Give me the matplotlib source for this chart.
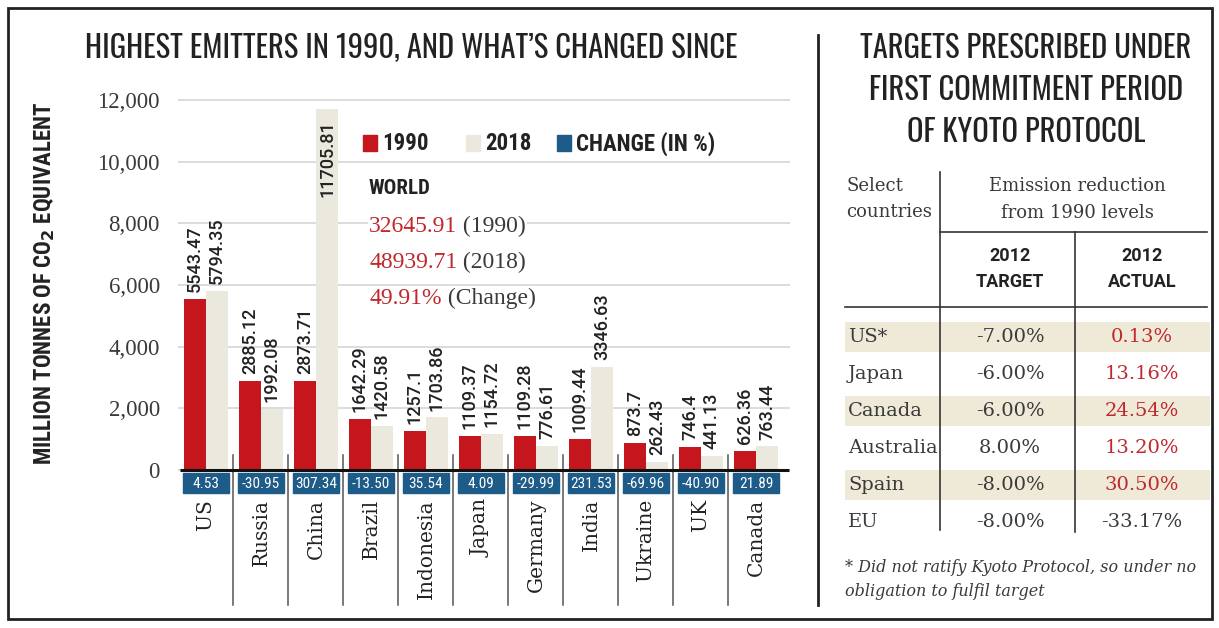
import numpy as np
import matplotlib
matplotlib.use('Agg')
import matplotlib.pyplot as plt
from matplotlib.patches import Rectangle

# emissions, million tonnes of CO2 equivalent
countries = ['US', 'Russia', 'China', 'Brazil', 'Indonesia', 'Japan',
             'Germany', 'India', 'Ukraine', 'UK', 'Canada']
em_1990 = [5543.47, 2885.12, 2873.71, 1642.29, 1257.1, 1109.37,
           1109.28, 1009.44, 873.7, 746.4, 626.36]
em_2018 = [5794.35, 1992.08, 11705.81, 1420.58, 1703.86, 1154.72,
           776.61, 3346.63, 262.43, 441.13, 763.44]
change_pct = [4.53, -30.95, 307.34, -13.50, 35.54, 4.09,
              -29.99, 231.53, -69.96, -40.90, 21.89]
y_ticks = [0, 2000, 4000, 6000, 8000, 10000, 12000]

world_1990 = 32645.91
world_2018 = 48939.71
world_change = 49.91

# kyoto table
kyoto_countries = ['US*', 'Japan', 'Canada', 'Australia', 'Spain', 'EU']
target_2012 = [-7.00, -6.00, -6.00, 8.00, -8.00, -8.00]
actual_2012 = [0.13, 13.16, 24.54, 13.20, 30.50, -33.17]

RED = '#c4161c'
RED_TXT = '#c0282d'
BEIGE = '#ebe8dd'
BLUE = '#1d5b88'
DARK = '#222222'
GREY_TXT = '#3a3a3a'
SHADE = '#efe9d8'
SERIF = 'DejaVu Serif'
NARROW_SERIF = 'Liberation Serif'
HEAD = 'Oswald'
COND = 'Roboto Condensed'
SANS = 'Roboto'

W, H = 1219, 628
fig = plt.figure(figsize=(W / 100, H / 100), dpi=100)
fig.patch.set_facecolor('white')

# ---- bar chart ----
top_px, bot_px, zero_px, max_px = 90, 610, 470, 100
ppu = (zero_px - max_px) / 12000.0  # pixels per unit

def ypx(p):
    return (zero_px - p) / ppu

left_px, right_px, x0_px, step_px = 178, 790, 206, 55
ax = fig.add_axes([left_px / W, 1 - bot_px / H, (right_px - left_px) / W,
                   (bot_px - top_px) / H])
ax.set_xlim((left_px - x0_px) / step_px, (right_px - x0_px) / step_px)
ax.set_ylim(ypx(bot_px), ypx(top_px))
ax.patch.set_alpha(0)
for s in ax.spines.values():
    s.set_visible(False)

# full-figure overlay in pixel units for titles, legend and table
bg = fig.add_axes([0, 0, 1, 1])
bg.set_xlim(0, W)
bg.set_ylim(H, 0)
bg.axis('off')
bg.patch.set_visible(False)
bg.set_zorder(3)

bg.add_patch(Rectangle((8, 8), W - 15, H - 17, fill=False, ec=DARK, lw=2))

x = np.arange(len(countries))
off, bw = 0.2, 0.39
ax.bar(x - off, em_1990, bw, color=RED, zorder=3)
ax.bar(x + off, em_2018, bw, color=BEIGE, zorder=3)

def value_label(xi, v):
    if v > 10000:
        # tallest bar carries its label inside the top
        ax.annotate(str(v), (xi, v), xytext=(0, -8), textcoords='offset points',
                    rotation=90, ha='center', va='top', fontsize=13,
                    family=SANS, fontweight='medium', color=DARK, zorder=4)
    else:
        ax.annotate(str(v), (xi, v), xytext=(0, 5), textcoords='offset points',
                    rotation=90, ha='center', va='bottom', fontsize=13,
                    family=SANS, fontweight='medium', color=DARK, zorder=4)

for xi, v in zip(x - off, em_1990):
    value_label(xi, v)
for xi, v in zip(x + off, em_2018):
    value_label(xi, v)

ax.set_yticks(y_ticks)
ax.set_yticklabels([f'{t:,}' for t in y_ticks], family=NARROW_SERIF,
                   fontsize=16.5, color=GREY_TXT)
ax.set_xticks([])
ax.tick_params(axis='y', length=0, pad=13)
ax.grid(axis='y', color='#d6d6d6', lw=1.2, zorder=0)
ax.plot([-0.47, 10.6], [0, 0], color='#111', lw=2.2, zorder=5,
        solid_capstyle='butt')

# change boxes, separators and country names under the axis
for i, (c, name) in enumerate(zip(change_pct, countries)):
    ax.add_patch(Rectangle((i - 0.41, ypx(493)), 0.82, ypx(473) - ypx(493),
                           color=BLUE, zorder=4, clip_on=False))
    ax.text(i, ypx(483.5), f'{c:.2f}', ha='center', va='center', color='white',
            family=COND, fontsize=11, zorder=5)
    ax.text(i, ypx(499), name, rotation=90, ha='center', va='top',
            family=SERIF, fontsize=14.5, color=DARK)
for i in range(len(countries) - 1):
    ax.plot([i + 0.5, i + 0.5], [ypx(455), ypx(605)], color='#555', lw=1.1,
            zorder=2)

bg.text(45, 283, r'MILLION TONNES OF CO$_\mathbf{2}$ EQUIVALENT', rotation=90,
        ha='center', va='center', family=COND, fontweight='bold', fontsize=16.5,
        color=DARK)
bg.text(85, 48, 'HIGHEST EMITTERS IN 1990, AND WHAT\u2019S CHANGED SINCE',
        ha='left', va='center', family=HEAD, fontsize=22, color=DARK)

# legend
for sx, col, lab in [(363, RED, '1990'), (466, BEIGE, '2018'),
                     (557, BLUE, 'CHANGE (IN %)')]:
    bg.add_patch(Rectangle((sx, 135), 14, 16, color=col))
    bg.text(sx + 19, 144, lab, va='center', family=COND, fontweight='bold',
            fontsize=16.5, color=DARK)

# world totals
bg.text(369, 188, 'WORLD', va='center', family=COND, fontweight='bold',
        fontsize=15, color=DARK)
for yy, val, tag in [(226, f'{world_1990:.2f}', ' (1990)'),
                     (262, f'{world_2018:.2f}', ' (2018)'),
                     (298, f'{world_change:.2f}%', ' (Change)')]:
    t = bg.text(369, yy, val, va='center', family=NARROW_SERIF, fontsize=17,
                color=RED_TXT,
                bbox=dict(fc='white', ec='none', pad=0.5))
    bg.annotate(tag, xy=(1, 0.5), xycoords=t, va='center',
                family=NARROW_SERIF, fontsize=17, color=GREY_TXT,
                bbox=dict(fc='white', ec='none', pad=0.5))

# ---- Kyoto table ----
bg.plot([818, 818], [35, 605], color=DARK, lw=2)
for yy, line in zip([48, 91, 133], ['TARGETS PRESCRIBED UNDER',
                                    'FIRST COMMITMENT PERIOD',
                                    'OF KYOTO PROTOCOL']):
    bg.text(1026, yy, line, ha='center', va='center', family=HEAD,
            fontsize=22, color=DARK)

line_kw = dict(color='#333', lw=1.2)
bg.plot([940, 940], [172, 530], **line_kw)
bg.plot([940, 1207], [232, 232], **line_kw)
bg.plot([1075, 1075], [232, 532], **line_kw)
bg.plot([845, 1207], [307, 307], **line_kw)

bg.text(846, 186, 'Select', va='center', family=SERIF, fontsize=13, color=GREY_TXT)
bg.text(846, 212, 'countries', va='center', family=SERIF, fontsize=13, color=GREY_TXT)
bg.text(1077, 186, 'Emission reduction', ha='center', va='center',
        family=SERIF, fontsize=13, color=GREY_TXT)
bg.text(1077, 213, 'from 1990 levels', ha='center', va='center',
        family=SERIF, fontsize=13, color=GREY_TXT)
for cx, lab in [(1010, 'TARGET'), (1142, 'ACTUAL')]:
    bg.text(cx, 256, '2012', ha='center', va='center', family=SANS,
            fontweight='bold', fontsize=13, color=DARK)
    bg.text(cx, 282, lab, ha='center', va='center', family=SANS,
            fontweight='bold', fontsize=13, color=DARK)

for k, (name, tg, ac) in enumerate(zip(kyoto_countries, target_2012, actual_2012)):
    yy = 337 + 37 * k
    if k % 2 == 0:
        bg.add_patch(Rectangle((845, yy - 15), 365, 30, color=SHADE, lw=0))
    bg.text(848, yy, name, va='center', family=SERIF, fontsize=14, color=GREY_TXT)
    bg.text(1010, yy, f'{tg:.2f}%', ha='center', va='center', family=SERIF,
            fontsize=14, color=GREY_TXT)
    bg.text(1142, yy, f'{ac:.2f}%', ha='center', va='center', family=SERIF,
            fontsize=14, color=RED_TXT if ac > 0 else GREY_TXT)

bg.text(845, 568, '* Did not ratify Kyoto Protocol, so under no', va='center',
        family=SERIF, style='italic', fontsize=11.5, color=GREY_TXT)
bg.text(845, 591, 'obligation to fulfil target', va='center',
        family=SERIF, style='italic', fontsize=11.5, color=GREY_TXT)

fig.savefig('out.png', dpi=100)
